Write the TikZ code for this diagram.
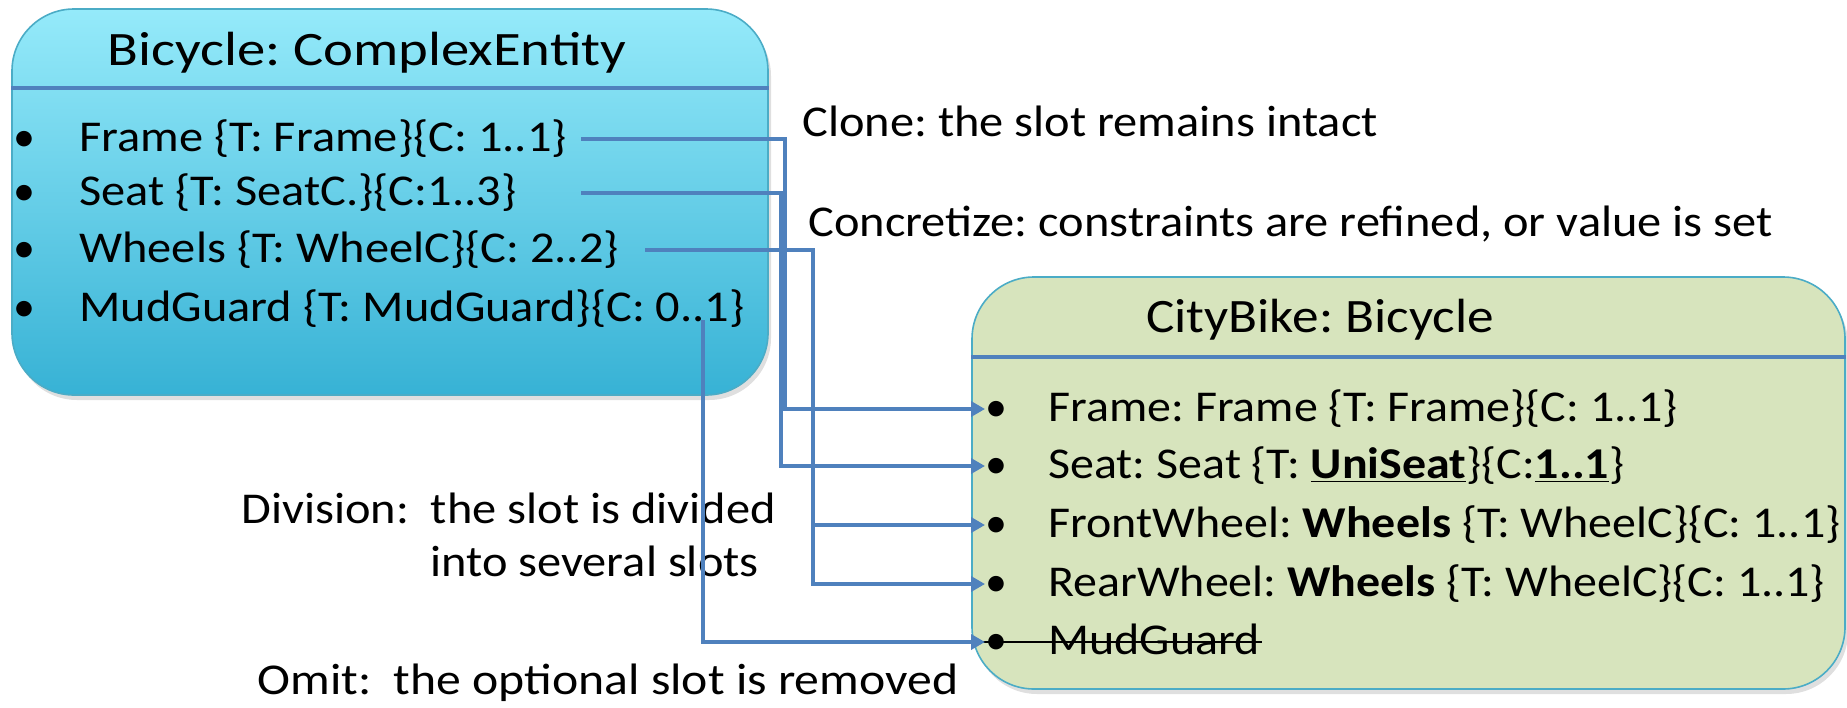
\documentclass[tikz,border=0pt]{standalone}
\usepackage{fontspec}
\usepackage{graphicx}
\setmainfont{Carlito}
\frenchspacing
\usetikzlibrary{arrows.meta,shadows}
\definecolor{cyanTop}{HTML}{95EAFA}
\definecolor{cyanBot}{HTML}{37B2D5}
\definecolor{boxline}{HTML}{4BACC6}
\definecolor{conncol}{HTML}{4F81BD}
\definecolor{greenfill}{HTML}{D7E4BD}
\newcommand\hstretch[2]{\scalebox{#1}[1]{#2}}
\newcommand\bulA{\makebox[33pt][l]{\textbullet}}
\newcommand\bulB{\makebox[31.5pt][l]{\textbullet}}
\tikzset{
  bigbox/.style={draw=boxline, line width=0.8pt, rounded corners=31pt,
    drop shadow={shadow xshift=1.5pt, shadow yshift=-2.5pt, opacity=0.25}},
  rowtext/.style={anchor=west, inner sep=0pt, text height=15pt, text depth=2.5pt,
    font=\fontsize{22}{26}\selectfont},
  titletext/.style={inner sep=0pt, font=\fontsize{24}{28}\selectfont},
  lbl/.style={anchor=west, inner sep=0pt, font=\fontsize{22}{26}\selectfont},
  hdr/.style={draw=conncol, line width=2.4pt},
  conn/.style={draw=conncol, line width=2.4pt, -{Triangle[length=7pt,width=7.5pt]}},
  strike/.style={draw=black, line width=0.8pt},
}
\begin{document}
\begin{tikzpicture}[x=0.5pt,y=-0.5pt]
\useasboundingbox (0,0) rectangle (1847,707);
% boxes
\node (bike) [bigbox, top color=cyanTop, bottom color=cyanBot,
  minimum width=378pt, minimum height=193pt] at (390,202) {};
\node (city) [bigbox, fill=greenfill,
  minimum width=436.5pt, minimum height=206pt] at (1408.5,483) {};
\draw[hdr] (bike.west |- 0,88) -- (bike.east |- 0,88);
\draw[hdr] (city.west |- 0,357) -- (city.east |- 0,357);
% titles
\node (bt) [titletext] at (367,53) {\hstretch{1.18}{Bicycle: ComplexEntity}};
\node (ct) [titletext] at (1320,320) {\hstretch{1.11}{CityBike: Bicycle}};
% left rows
\node (lf) [rowtext] at (13,139) {\bulA\hstretch{1.1}{Frame \{T: Frame\}\{C: 1..1\}}};
\node (ls) [rowtext] at (13,193) {\bulA\hstretch{1.1}{Seat \{T: SeatC.\}\{C:1..3\}}};
\node (lw) [rowtext] at (13,250) {\bulA\hstretch{1.1}{Wheels \{T: WheelC\}\{C: 2..2\}}};
\node (lm) [rowtext] at (13,309) {\bulA\hstretch{1.1}{MudGuard \{T: MudGuard\}\{C: 0..1\}}};
% right rows
\node (rf) [rowtext] at (985,409) {\bulB\hstretch{1.09}{Frame: Frame \{T: Frame\}\{C: 1..1\}}};
\node (rs) [rowtext] at (985,466) {\bulB\hstretch{1.09}{Seat: Seat \{T: \underline{\textbf{UniSeat}}\}\{C:\underline{\textbf{1..1}}\}}};
\node (rw1) [rowtext] at (985,525) {\bulB\hstretch{1.09}{FrontWheel: \textbf{Wheels} \{T: WheelC\}\{C: 1..1\}}};
\node (rw2) [rowtext] at (985,584) {\bulB\hstretch{1.09}{RearWheel: \textbf{Wheels} \{T: WheelC\}\{C: 1..1\}}};
\node (rm) [rowtext] at (985,642) {\bulB\hstretch{1.09}{MudGuard}};
\draw[strike] ([xshift=-4pt]rm.west) -- ([xshift=1pt]rm.east);
% labels
\node (lclone) [lbl] at (802,121) {\hstretch{1.1}{Clone: the slot remains intact}};
\node (lconc) [lbl] at (808,224) {\hstretch{1.1}{Concretize: constraints are refined, or value is set}};
\node (ldiv) [lbl] at (241,508) {\hstretch{1.1}{Division:\ \ the slot is divided}};
\node (ldiv2) [lbl] at (430,561) {\hstretch{1.1}{into several slots}};
\node (lomit) [lbl] at (257,683) {\hstretch{1.13}{Omit:\ \ the optional slot is removed}};
% lane coordinates
\coordinate (xF) at (785,0);
\coordinate (xS) at (781,0);
\coordinate (xW) at (813,0);
\coordinate (fs) at (581,139);
\coordinate (ss) at (581,193);
\coordinate (ws) at (645,250);
\coordinate (ms) at (703,320);
% connectors
\draw[conn] (fs) -| (xF |- rf.west) -- (rf.west);
\draw[conn] (ss) -| (xS |- rs.west) -- (rs.west);
\draw[conn] (ws) -| (xW |- rw2.west) -- (rw2.west);
\draw[conn] (xW |- rw1.west) -- (rw1.west);
\draw[conn] (ms) |- (rm.west);
\end{tikzpicture}
\end{document}
